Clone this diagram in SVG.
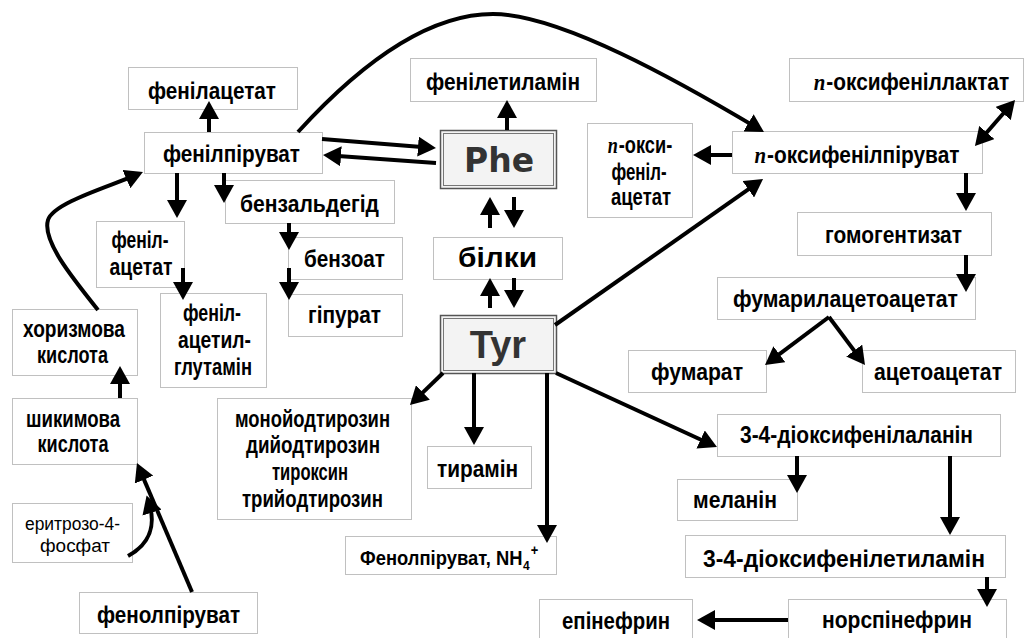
<svg xmlns="http://www.w3.org/2000/svg" width="1027" height="638" viewBox="0 0 1027 638">
<style>
.box{fill:#fff;stroke:#c0c0c0;stroke-width:1}
.dbo{fill:#f3f3f3;stroke:#555;stroke-width:1.5}
.dbi{fill:#f3f3f3;stroke:#777;stroke-width:1}
.t{font-family:"Liberation Sans Narrow","Liberation Sans",Arial,sans-serif;font-weight:bold;font-size:24px;fill:#000;text-anchor:middle}
.r{font-family:"Liberation Sans Narrow","Liberation Sans",Arial,sans-serif;font-weight:normal;font-size:18px;fill:#000;text-anchor:middle}
.it{font-family:"Liberation Serif",serif;font-style:italic}
.big{font-family:"DejaVu Sans",sans-serif;font-weight:bold;font-size:33px;fill:#333;text-anchor:middle}
.tyr{font-family:"Liberation Sans",Arial,sans-serif;font-weight:bold;font-size:38px;fill:#333;text-anchor:middle}
.bl{font-family:"Liberation Sans",Arial,sans-serif;font-weight:bold;font-size:28px;fill:#000;text-anchor:middle}
.c{fill:none;stroke:#000;stroke-width:4;marker-end:url(#ah)}
</style>
<defs>
<marker id="ah" viewBox="0 0 18 20" markerWidth="18" markerHeight="20" markerUnits="userSpaceOnUse" refX="10" refY="10" orient="auto-start-reverse"><path d="M0,0 L18,10 L0,20 z" fill="#000"/></marker>
</defs>
<rect width="1027" height="638" fill="#fff"/>
<g id="n-fenilacetat"><rect class="box" x="128.5" y="67.5" width="169" height="42"/><text class="t" x="212" y="99" textLength="128" lengthAdjust="spacingAndGlyphs">фенілацетат</text></g>
<g id="n-fenilpiruvat"><rect class="box" x="144.5" y="132.5" width="178" height="41"/><text class="t" x="231.5" y="162" textLength="137" lengthAdjust="spacingAndGlyphs">фенілпіруват</text></g>
<g id="n-feniletylamin"><rect class="box" x="410.5" y="58.5" width="186" height="43"/><text class="t" x="503" y="90" textLength="154" lengthAdjust="spacingAndGlyphs">фенілетиламін</text></g>
<g id="n-phe"><rect class="dbo" x="440.5" y="130.5" width="116" height="58"/><rect class="dbi" x="443.5" y="133.5" width="110" height="52"/><text class="big" x="499" y="172">Phe</text></g>
<g id="n-bilky"><rect class="box" x="433.5" y="237.5" width="129" height="42"/><text class="bl" x="497.5" y="267" textLength="79" lengthAdjust="spacingAndGlyphs">білки</text></g>
<g id="n-tyr"><rect class="dbo" x="440.5" y="315.5" width="116" height="58"/><rect class="dbi" x="443.5" y="318.5" width="110" height="52"/><text class="tyr" x="498" y="358">Tyr</text></g>
<g id="n-poksilaktat"><rect class="box" x="789.5" y="58.5" width="234" height="43"/><text class="t" transform="translate(911.5,90) scale(0.87,1)" x="0" y="0"><tspan class="it">п</tspan><tspan dx="1">-оксифеніллактат</tspan></text></g>
<g id="n-poksipiruvat"><rect class="box" x="732.5" y="131.5" width="250" height="42"/><text class="t" transform="translate(857,163) scale(0.87,1)" x="0" y="0"><tspan class="it">п</tspan><tspan dx="1">-оксифенілпіруват</tspan></text></g>
<g id="n-poksiacetat"><rect class="box" x="587.5" y="123.5" width="105" height="94"/><text class="t" transform="translate(640,153) scale(0.76,1)" x="0" y="0"><tspan class="it">п</tspan><tspan dx="1">-окси-</tspan></text><text class="t" x="639" y="180" textLength="55" lengthAdjust="spacingAndGlyphs">феніл-</text><text class="t" x="641" y="205" textLength="60" lengthAdjust="spacingAndGlyphs">ацетат</text></g>
<g id="n-benzaldehid"><rect class="box" x="225.5" y="180.5" width="169" height="43"/><text class="t" x="309.5" y="212" textLength="139" lengthAdjust="spacingAndGlyphs">бензальдегід</text></g>
<g id="n-fenil-acetat"><rect class="box" x="96.5" y="221.5" width="88" height="66"/><text class="t" x="140" y="248" textLength="57" lengthAdjust="spacingAndGlyphs">феніл-</text><text class="t" x="141" y="275" textLength="63" lengthAdjust="spacingAndGlyphs">ацетат</text></g>
<g id="n-benzoat"><rect class="box" x="288.5" y="237.5" width="114" height="42"/><text class="t" x="344.5" y="267" textLength="81" lengthAdjust="spacingAndGlyphs">бензоат</text></g>
<g id="n-hipurat"><rect class="box" x="288.5" y="294.5" width="114" height="42"/><text class="t" x="344.5" y="323" textLength="73" lengthAdjust="spacingAndGlyphs">гіпурат</text></g>
<g id="n-fenilacetylglutamin"><rect class="box" x="160.5" y="293.5" width="106" height="94"/><text class="t" x="212" y="321" textLength="58" lengthAdjust="spacingAndGlyphs">феніл-</text><text class="t" x="214.5" y="348" textLength="73" lengthAdjust="spacingAndGlyphs">ацетил-</text><text class="t" x="213" y="375" textLength="78" lengthAdjust="spacingAndGlyphs">глутамін</text></g>
<g id="n-horyzmova"><rect class="box" x="12.5" y="309.5" width="125" height="66"/><text class="t" x="74" y="337" textLength="102" lengthAdjust="spacingAndGlyphs">хоризмова</text><text class="t" x="72.5" y="363" textLength="71" lengthAdjust="spacingAndGlyphs">кислота</text></g>
<g id="n-shykymova"><rect class="box" x="12.5" y="398.5" width="125" height="66"/><text class="t" x="73" y="427" textLength="94" lengthAdjust="spacingAndGlyphs">шикимова</text><text class="t" x="73" y="452" textLength="71" lengthAdjust="spacingAndGlyphs">кислота</text></g>
<g id="n-erytrozo"><rect class="box" x="12.5" y="503.5" width="120" height="59"/><text class="r" x="72.5" y="530" textLength="95" lengthAdjust="spacingAndGlyphs">еритрозо-4-</text><text class="r" x="75" y="552" textLength="70" lengthAdjust="spacingAndGlyphs">фосфат</text></g>
<g id="n-fenolpiruvat"><rect class="box" x="79.5" y="592.5" width="178" height="41"/><text class="t" x="168.5" y="623" textLength="143" lengthAdjust="spacingAndGlyphs">фенолпіруват</text></g>
<g id="n-jodtyrozyny"><rect class="box" x="217.5" y="398.5" width="194" height="121"/><text class="t" x="312.5" y="427" textLength="155" lengthAdjust="spacingAndGlyphs">монойодтирозин</text><text class="t" x="313" y="453" textLength="134" lengthAdjust="spacingAndGlyphs">дийодтирозин</text><text class="t" x="310" y="480" textLength="76" lengthAdjust="spacingAndGlyphs">тироксин</text><text class="t" x="312.5" y="507" textLength="141" lengthAdjust="spacingAndGlyphs">трийодтирозин</text></g>
<g id="n-tyramin"><rect class="box" x="427.5" y="446.5" width="104" height="42"/><text class="t" x="477.5" y="477" textLength="81" lengthAdjust="spacingAndGlyphs">тирамін</text></g>
<g id="n-fenolpiruvat-nh4"><rect class="box" x="345.5" y="536.5" width="211" height="38"/><text class="t" transform="translate(360,565) scale(0.92,1)" x="0" y="0" style="text-anchor:start;font-size:20px">Фенолпіруват, NH<tspan font-size="13" dx="0.5" dy="5">4</tspan><tspan font-size="14" dx="1" dy="-15">+</tspan></text></g>
<g id="n-homogentyzat"><rect class="box" x="797.5" y="212.5" width="194" height="43"/><text class="t" x="893.5" y="243" textLength="137" lengthAdjust="spacingAndGlyphs">гомогентизат</text></g>
<g id="n-fumarylacetoacetat"><rect class="box" x="717.5" y="277.5" width="258" height="42"/><text class="t" x="845.5" y="307" textLength="225" lengthAdjust="spacingAndGlyphs">фумарилацетоацетат</text></g>
<g id="n-fumarat"><rect class="box" x="628.5" y="350.5" width="138" height="42"/><text class="t" x="697" y="380" textLength="92" lengthAdjust="spacingAndGlyphs">фумарат</text></g>
<g id="n-acetoacetat"><rect class="box" x="862.5" y="350.5" width="153" height="42"/><text class="t" x="938" y="380" textLength="128" lengthAdjust="spacingAndGlyphs">ацетоацетат</text></g>
<g id="n-dopa"><rect class="box" x="717.5" y="414.5" width="283" height="42"/><text class="t" x="856.5" y="443" textLength="233" lengthAdjust="spacingAndGlyphs">3-4-діоксифенілаланін</text></g>
<g id="n-melanin"><rect class="box" x="677.5" y="479.5" width="120" height="41"/><text class="t" x="735" y="508" textLength="84" lengthAdjust="spacingAndGlyphs">меланін</text></g>
<g id="n-dofamin"><rect class="box" x="685.5" y="535.5" width="320" height="42"/><text class="t" x="844" y="567" textLength="282" lengthAdjust="spacingAndGlyphs">3-4-діоксифенілетиламін</text></g>
<g id="n-norspinefryn"><rect class="box" x="788.5" y="599.5" width="218" height="42"/><text class="t" x="897" y="628" textLength="150" lengthAdjust="spacingAndGlyphs">норспінефрин</text></g>
<g id="n-epinefryn"><rect class="box" x="539.5" y="599.5" width="153" height="42"/><text class="t" x="616" y="629" textLength="108" lengthAdjust="spacingAndGlyphs">епінефрин</text></g>
<g id="connectors">
<path class="c" d="M209,132 V109"/>
<path class="c" d="M322,139 L428,147.4"/>
<path class="c" d="M436,163 L331,155.6"/>
<path class="c" d="M507,130 V108"/>
<path class="c" d="M177,173 V210"/>
<path class="c" d="M224,173 V195"/>
<path class="c" d="M183,268 V292"/>
<path class="c" d="M289,223 V242"/>
<path class="c" d="M289,268 V292"/>
<path class="c" d="M120,398 V374"/>
<path class="c" d="M192,592 L140.1,470.4"/>
<path class="c" d="M128,556 C150,544 156,525 149,503"/>
<path class="c" d="M98,310 C70,275 42,240 48,220 C53,203 108,187 135.6,175.1"/>
<path class="c" d="M298,132 C350,75 420,14 493,14 C560,14 680,82 757.1,127.9"/>
<path class="c" d="M490,228 V205"/>
<path class="c" d="M514,197 V220"/>
<path class="c" d="M490,308 V286"/>
<path class="c" d="M514,278 V300"/>
<path class="c" d="M555,325 L756.5,183.6"/>
<path class="c" d="M443,373 L415.7,399.4"/>
<path class="c" d="M474,373 V437"/>
<path class="c" d="M547,373 V535"/>
<path class="c" d="M556,373 L709.7,443.7"/>
<path class="c" d="M732,155 H701"/>
<path class="c" d="M980.2,140 L1009.8,106" marker-start="url(#ah)"/>
<path class="c" d="M966,173 V203"/>
<path class="c" d="M966,255 V284"/>
<path class="c" d="M829,317 L771.4,360.2"/>
<path class="c" d="M829,317 L860.2,358.6"/>
<path class="c" d="M797,456 V485"/>
<path class="c" d="M950,456 V527"/>
<path class="c" d="M987,577 V599"/>
<path class="c" d="M788,620 H705"/>
</g>
</svg>
